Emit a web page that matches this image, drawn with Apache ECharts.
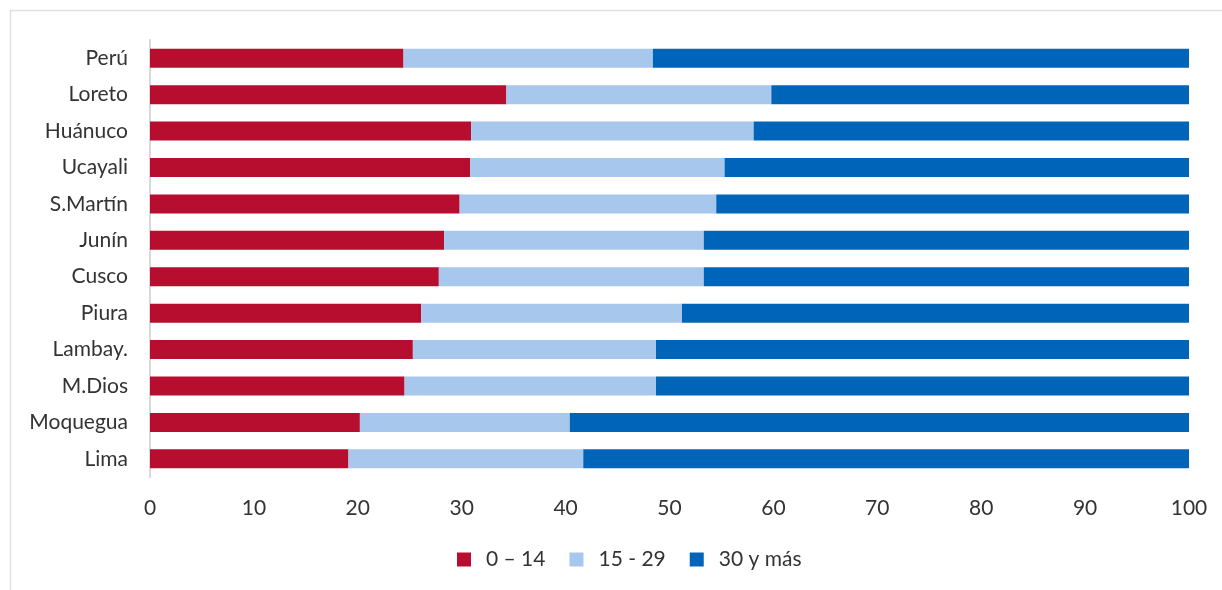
<!DOCTYPE html>
<html>
<head>
<meta charset="utf-8">
<script src="https://cdn.jsdelivr.net/npm/echarts@6/dist/echarts.min.js"></script>
<style>
  html, body { margin: 0; padding: 0; background: #fff; }
  #chart { width: 1222px; height: 590px; }
</style>
</head>
<body>
<div id="chart"></div>
<script>
// regions, top to bottom as in the picture
const regions = ['Perú', 'Loreto', 'Huánuco', 'Ucayali', 'S.Martín', 'Junín', 'Cusco', 'Piura', 'Lambay.', 'M.Dios', 'Moquegua', 'Lima'];
// share of population by age group (%)
const age0to14 = [24.4, 34.3, 30.9, 30.8, 29.8, 28.3, 27.8, 26.1, 25.3, 24.5, 20.2, 19.1];
const age15to29 = [24.0, 25.5, 27.2, 24.5, 24.7, 25.0, 25.5, 25.1, 23.4, 24.2, 20.2, 22.6];
const age30plus = [51.6, 40.2, 41.9, 44.7, 45.5, 46.7, 46.7, 48.8, 51.3, 51.3, 59.6, 58.3];

const font = 'Lato, "Open Sans", sans-serif';
const chart = echarts.init(document.getElementById('chart'));

// category axis goes bottom-up, so reverse to keep Perú on top
const rev = a => a.slice().reverse();

chart.setOption({
  animation: false,
  textStyle: { fontFamily: font },
  color: ['#b70e30', '#a8c7ed', '#0065b8'],
  graphic: [{
    type: 'rect',
    shape: { x: 10.5, y: 10.5, width: 1230, height: 600 },
    style: { fill: 'none', stroke: '#dde2df', lineWidth: 1.5 },
    silent: true
  }],
  grid: { left: 150, right: 33, top: 40, bottom: 113 },
  legend: {
    bottom: 15,
    left: 452,
    icon: 'rect',
    itemWidth: 14,
    itemHeight: 14,
    itemGap: 24,
    textStyle: { fontSize: 21, color: '#333', fontFamily: font, padding: [0, 0, 0, 10] },
    data: ['0 – 14', '15 - 29', '30 y más']
  },
  xAxis: {
    type: 'value',
    min: 0,
    max: 100,
    interval: 10,
    axisLine: { show: false },
    axisTick: { show: false },
    splitLine: { show: false },
    axisLabel: { fontSize: 21, color: '#333', margin: 21 }
  },
  yAxis: {
    type: 'category',
    data: rev(regions),
    axisLine: { show: true, lineStyle: { color: '#d9d9d9', width: 2 } },
    axisTick: { show: false },
    axisLabel: { fontSize: 21, color: '#333', margin: 22 }
  },
  series: [
    { name: '0 – 14', type: 'bar', stack: 'total', barWidth: 19, data: rev(age0to14) },
    { name: '15 - 29', type: 'bar', stack: 'total', barWidth: 19, data: rev(age15to29) },
    { name: '30 y más', type: 'bar', stack: 'total', barWidth: 19, data: rev(age30plus) }
  ]
});
</script>
</body>
</html>
